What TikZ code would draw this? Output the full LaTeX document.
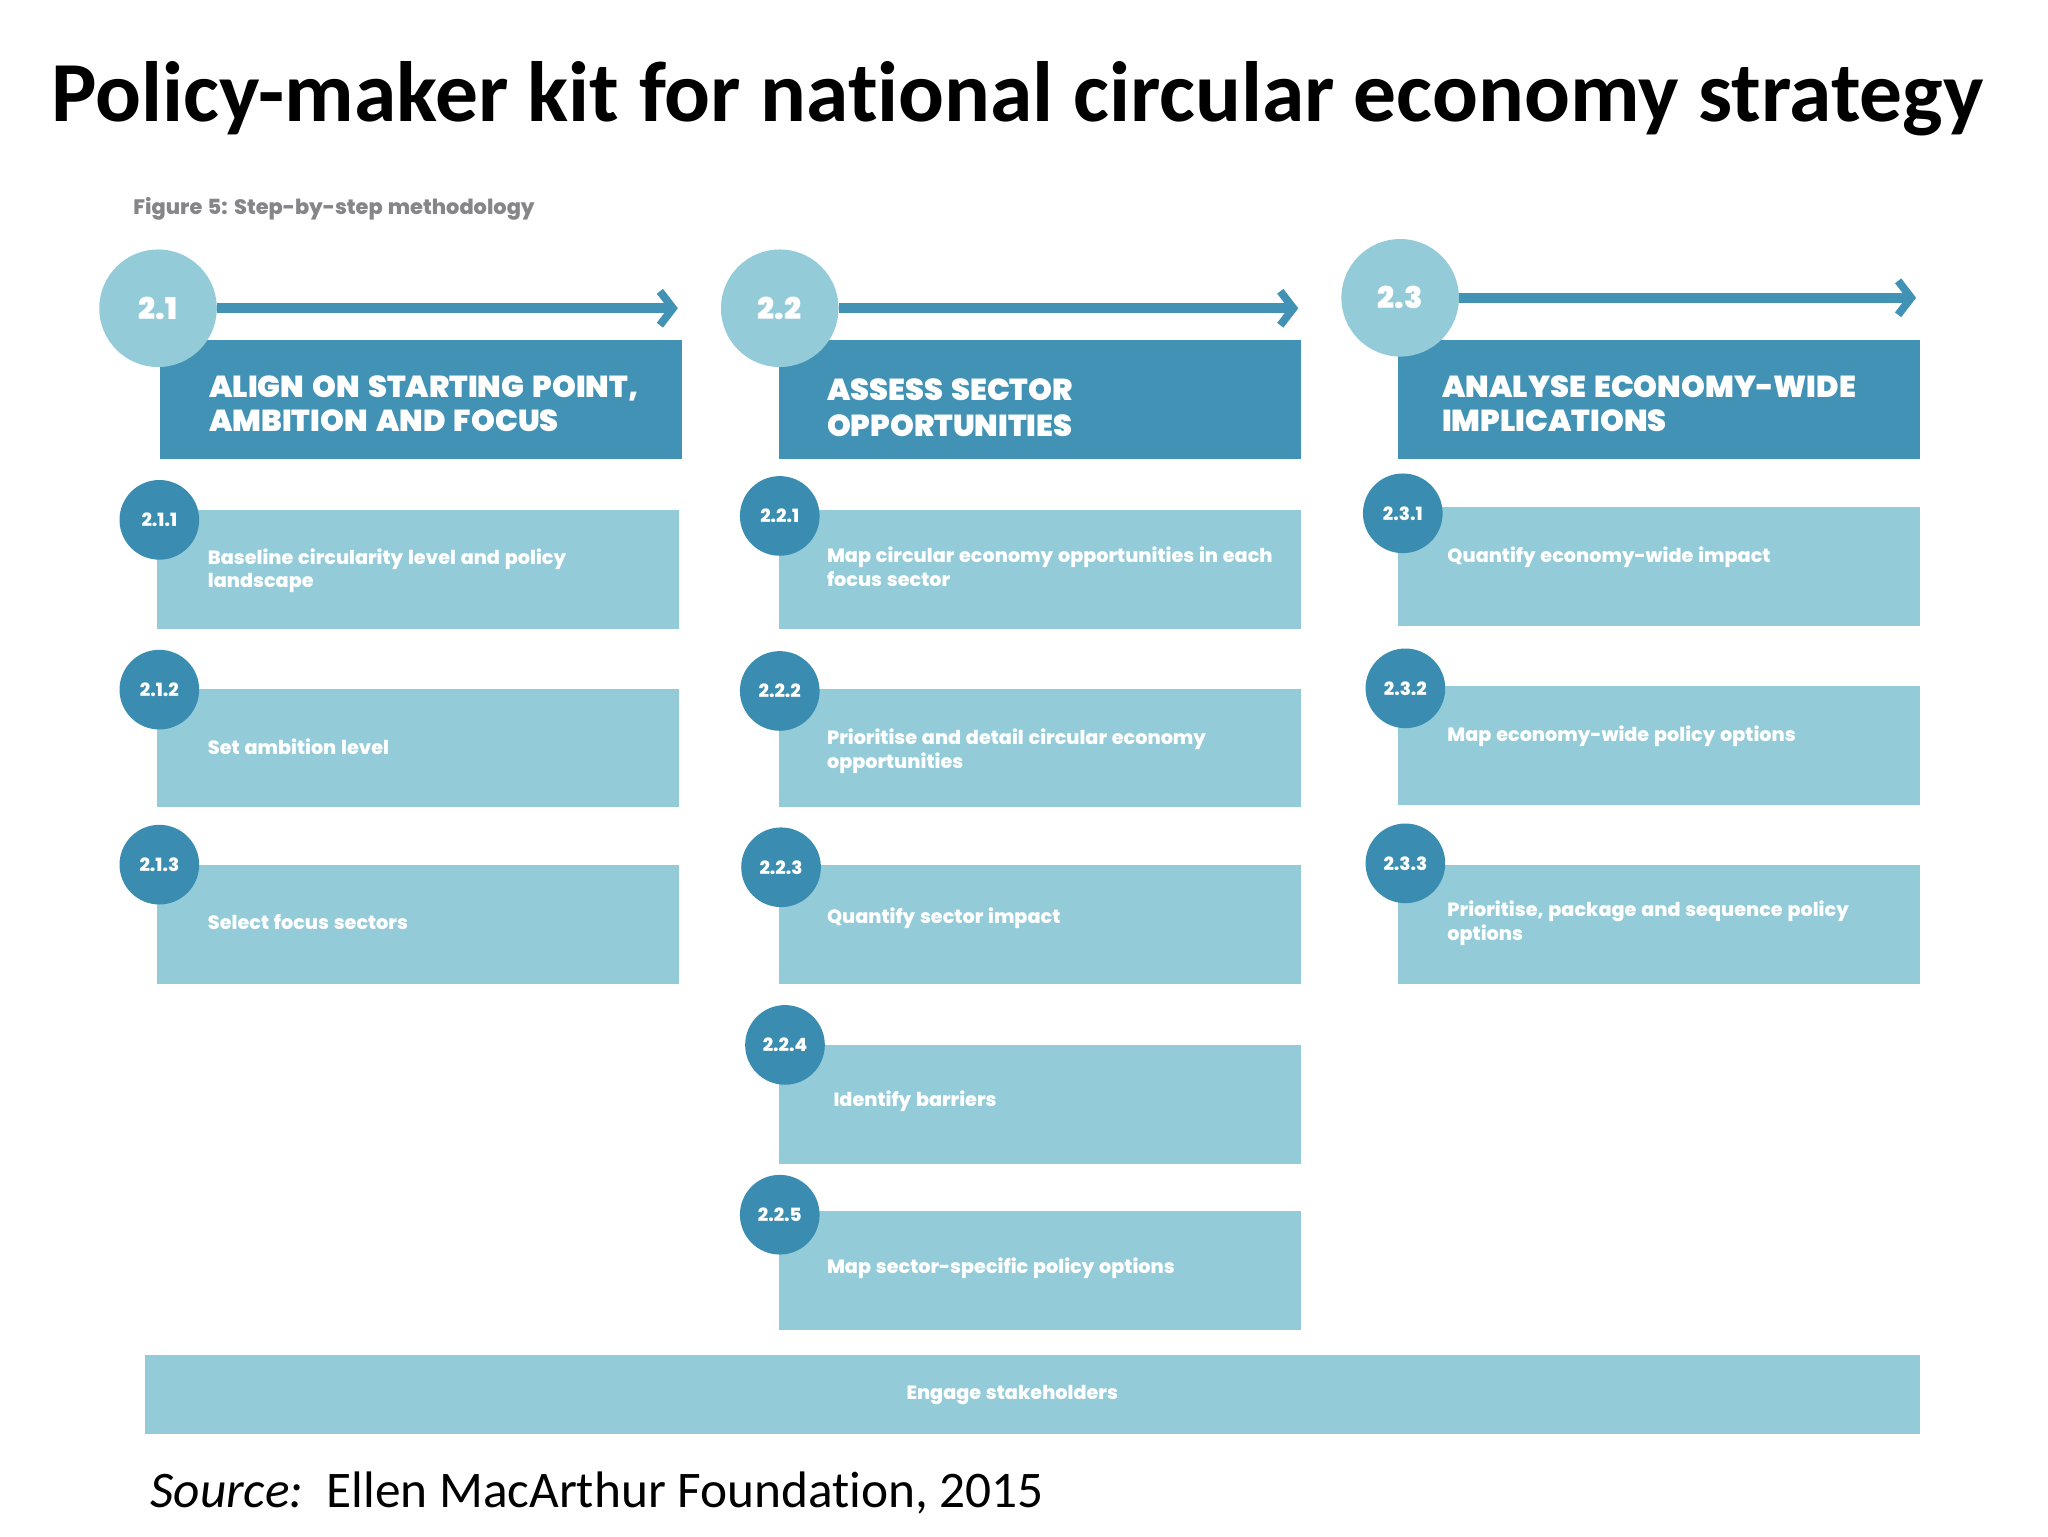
\documentclass[tikz,border=0pt]{standalone}
\usepackage{fontspec}
\setmainfont{Carlito}[Ligatures={NoCommon}]
\newfontfamily\geo{Poppins}[BoldFont={Poppins Black}, WordSpace=1.6]
\newfontfamily\body{Poppins}[BoldFont={Poppins ExtraBold}, WordSpace=1.3]
\usetikzlibrary{arrows.meta}
\definecolor{darkteal}{HTML}{4192B4}
\definecolor{lightteal}{HTML}{93CBD8}
\definecolor{circdark}{HTML}{3A8DB0}
\definecolor{captgray}{HTML}{85858A}
\tikzset{
  hdrbox/.style={fill=darkteal, draw=none, anchor=north west, minimum width=400pt, minimum height=91pt, inner sep=0pt},
  subbox/.style={fill=lightteal, draw=none, anchor=north west, minimum width=400pt, minimum height=91pt, inner sep=0pt},
  bigcirc/.style={circle, fill=lightteal, draw=none, minimum size=90pt, inner sep=0pt, text=white, font=\geo\bfseries\fontsize{23}{24}\selectfont},
  smallcirc/.style={circle, fill=circdark, draw=none, minimum size=61pt, inner sep=0pt, text=white, font=\body\bfseries\fontsize{14}{15}\selectfont},
  hdrtext/.style={anchor=west, text=white, align=left, inner sep=0pt, font=\geo\bfseries\fontsize{23.2}{25.5}\selectfont},
  subtext/.style={anchor=west, text=white, align=left, inner sep=0pt, font=\body\bfseries\fontsize{14.7}{18}\selectfont},
  steparrow/.style={draw=darkteal, line width=8pt, -{Straight Barb[length=10pt, width=26pt, line width=6pt]}},
}
\begin{document}
\begin{tikzpicture}[x=1pt,y=-1pt]
\useasboundingbox (0,0) rectangle (1568,1176);
% title
\node[anchor=base, font=\bfseries\fontsize{65.5}{70}\selectfont, inner sep=0pt] (title) at (779,93) {Policy-maker kit for national circular economy strategy};
\node[anchor=west, text=captgray, inner sep=0pt, font=\body\bfseries\fontsize{16}{18}\selectfont] (capt) at (102,160) {Figure 5: Step-by-step methodology};

% column 1
\node[hdrbox] (h1) at (122,260) {};
\node[hdrtext] (h1t) at (160,309) {ALIGN ON STARTING POINT,\\AMBITION AND FOCUS};
\node[subbox] (b211) at (120,390) {};
\node[subtext] (b211t) at (159,437) {Baseline circularity level and policy\\landscape};
\node[subbox] (b212) at (120,527) {};
\node[subtext] (b212t) at (159,572) {Set ambition level};
\node[subbox] (b213) at (120,662) {};
\node[subtext] (b213t) at (159,706) {Select focus sectors};
\node[bigcirc] (c21) at (121,236) {2.1};
\coordinate (a21) at (519,236);
\draw[steparrow] (c21.east) -- (a21);
\node[smallcirc] (c211) at (122,398) {2.1.1};
\node[smallcirc] (c212) at (122,528) {2.1.2};
\node[smallcirc] (c213) at (122,662) {2.1.3};

% column 2
\node[hdrbox] (h2) at (596,260) {};
\node[hdrtext] (h2t) at (633,312) {ASSESS SECTOR\\[2.5pt]OPPORTUNITIES};
\node[subbox] (b221) at (596,390) {};
\node[subtext] (b221t) at (633,434) {Map circular economy opportunities in each\\focus sector};
\node[subbox] (b222) at (596,527) {};
\node[subtext] (b222t) at (633,575) {Prioritise and detail circular economy\\opportunities};
\node[subbox] (b223) at (596,662) {};
\node[subtext] (b223t) at (633,703) {Quantify sector impact};
\node[subbox] (b224) at (596,800) {};
\node[subtext] (b224t) at (638,843) {Identify barriers};
\node[subbox] (b225) at (596,927) {};
\node[subtext] (b225t) at (633,971) {Map sector-specific policy options};
\node[bigcirc] (c22) at (597,236) {2.2};
\coordinate (a22) at (994,236);
\draw[steparrow] (c22.east) -- (a22);
\node[smallcirc] (c221) at (597,395) {2.2.1};
\node[smallcirc] (c222) at (597,529) {2.2.2};
\node[smallcirc] (c223) at (598,664) {2.2.3};
\node[smallcirc] (c224) at (601,800) {2.2.4};
\node[smallcirc] (c225) at (597,930) {2.2.5};

% column 3
\node[hdrbox] (h3) at (1070,260) {};
\node[hdrtext] (h3t) at (1104,309) {ANALYSE ECONOMY-WIDE\\IMPLICATIONS};
\node[subbox] (b231) at (1070,388) {};
\node[subtext] (b231t) at (1108,427) {Quantify economy-wide impact};
\node[subbox] (b232) at (1070,525) {};
\node[subtext] (b232t) at (1108,564) {Map economy-wide policy options};
\node[subbox] (b233) at (1070,662) {};
\node[subtext] (b233t) at (1108,707) {Prioritise, package and sequence policy\\options};
\node[bigcirc] (c23) at (1072,228) {2.3};
\coordinate (a23) at (1467,228);
\draw[steparrow] (c23.east) -- (a23);
\node[smallcirc] (c231) at (1074,393) {2.3.1};
\node[smallcirc] (c232) at (1076,527) {2.3.2};
\node[smallcirc] (c233) at (1076,661) {2.3.3};

% bottom bar
\node[fill=lightteal, anchor=north west, minimum width=1359pt, minimum height=61pt, inner sep=0pt] (eng) at (111,1037) {};
\node[subtext, anchor=center] (engt) at (775,1068) {Engage stakeholders};

% source
\node[anchor=west, inner sep=0pt, font=\fontsize{39.3}{42}\selectfont] (src) at (115,1143) {\textit{Source:}\ \ Ellen MacArthur Foundation, 2015};
\end{tikzpicture}
\end{document}
